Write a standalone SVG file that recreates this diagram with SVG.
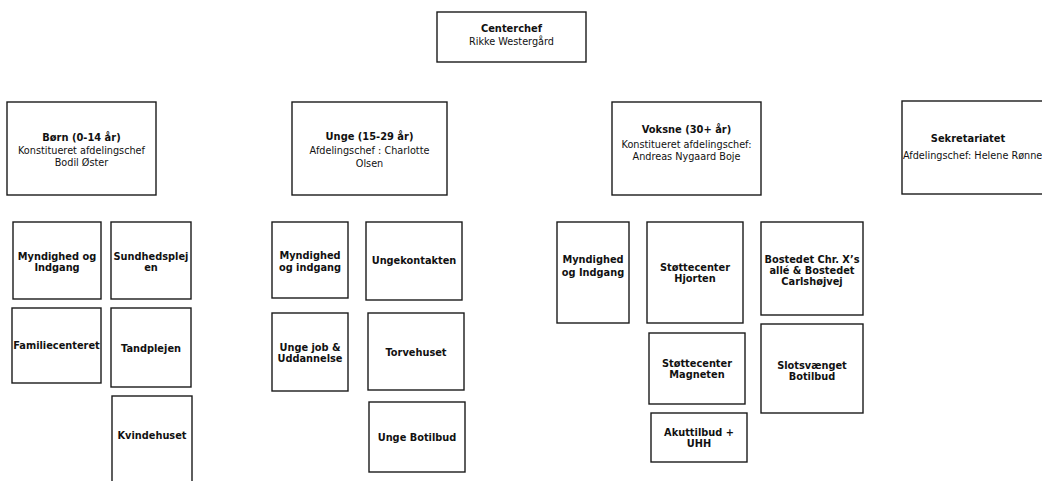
<svg xmlns="http://www.w3.org/2000/svg" width="1042" height="481" viewBox="0 0 1042 481">
<style>
.box{fill:#fff;stroke:#1a1a1a;stroke-width:1.4}
text{font-family:"DejaVu Sans",Verdana,sans-serif;fill:#111;text-anchor:middle}
.t{font-size:9.9px;font-weight:bold}
.r{font-size:9.7px}
.s{font-size:9.8px;font-weight:bold}
</style>
<rect width="1042" height="481" fill="#fff"/>
<g id="connectors"></g>

<g id="centerchef">
<rect class="box" x="437" y="12" width="149" height="50"/>
<text class="t" x="511.5" y="32">Centerchef</text>
<text class="r" x="511.5" y="45">Rikke Westergård</text>
</g>

<g id="born">
<rect class="box" x="7" y="102" width="149" height="93"/>
<text class="t" x="81.5" y="141">Børn (0-14 år)</text>
<text class="r" x="81.5" y="154">Konstitueret afdelingschef</text>
<text class="r" x="81.5" y="166">Bodil Øster</text>
</g>

<g id="unge">
<rect class="box" x="292" y="102" width="155" height="93"/>
<text class="t" x="369.5" y="140">Unge (15-29 år)</text>
<text class="r" x="369.5" y="154">Afdelingschef : Charlotte</text>
<text class="r" x="369.5" y="166.5">Olsen</text>
</g>

<g id="voksne">
<rect class="box" x="612" y="102" width="149" height="93"/>
<text class="t" x="686.5" y="133">Voksne (30+ år)</text>
<text class="r" x="686.5" y="147.5">Konstitueret afdelingschef:</text>
<text class="r" x="686.5" y="160">Andreas Nygaard Boje</text>
</g>

<g id="sekretariatet">
<rect class="box" x="902" y="101" width="155" height="93"/>
<text class="t" x="968" y="142">Sekretariatet</text>
<text class="r" x="903" y="158.5" style="text-anchor:start">Afdelingschef: Helene Rønne</text>
</g>

<g id="born-myndighed">
<rect class="box" x="13" y="222" width="88" height="77"/>
<text class="s" x="57" y="260">Myndighed og</text>
<text class="s" x="57" y="271">Indgang</text>
</g>
<g id="sundhedsplejen">
<rect class="box" x="111" y="222" width="80" height="77"/>
<text class="s" x="151" y="260">Sundhedsplej</text>
<text class="s" x="151" y="271">en</text>
</g>
<g id="familiecenteret">
<rect class="box" x="12" y="308" width="89" height="75"/>
<text class="s" x="56.5" y="348.5">Familiecenteret</text>
</g>
<g id="tandplejen">
<rect class="box" x="111" y="308" width="80" height="79"/>
<text class="s" x="151" y="351.5">Tandplejen</text>
</g>
<g id="kvindehuset">
<rect class="box" x="112" y="396" width="80" height="100"/>
<text class="s" x="152" y="438.5">Kvindehuset</text>
</g>

<g id="unge-myndighed">
<rect class="box" x="272" y="222" width="76" height="76"/>
<text class="s" x="310" y="259">Myndighed</text>
<text class="s" x="310" y="270.5">og indgang</text>
</g>
<g id="ungekontakten">
<rect class="box" x="366" y="222" width="96" height="78"/>
<text class="s" x="414" y="263.5">Ungekontakten</text>
</g>
<g id="unge-job">
<rect class="box" x="272" y="313" width="76" height="78"/>
<text class="s" x="310" y="350.5">Unge job &amp;</text>
<text class="s" x="310" y="361.5">Uddannelse</text>
</g>
<g id="torvehuset">
<rect class="box" x="368" y="313" width="96" height="77"/>
<text class="s" x="416" y="355.5">Torvehuset</text>
</g>
<g id="unge-botilbud">
<rect class="box" x="369" y="402" width="96" height="70"/>
<text class="s" x="417" y="440.5">Unge Botilbud</text>
</g>

<g id="voksne-myndighed">
<rect class="box" x="557" y="222" width="72" height="101"/>
<text class="s" x="593" y="262.5">Myndighed</text>
<text class="s" x="593" y="275.5">og Indgang</text>
</g>
<g id="hjorten">
<rect class="box" x="647" y="222" width="96" height="101"/>
<text class="s" x="695" y="270.5">Støttecenter</text>
<text class="s" x="695" y="282">Hjorten</text>
</g>
<g id="bostedet">
<rect class="box" x="761" y="222" width="102" height="93"/>
<text class="s" x="812" y="262.5">Bostedet Chr. X’s</text>
<text class="s" x="812" y="273.5">allé &amp; Bostedet</text>
<text class="s" x="812" y="284.5">Carlshøjvej</text>
</g>
<g id="slotsvaenget">
<rect class="box" x="761" y="324" width="102" height="89"/>
<text class="s" x="812" y="368.5">Slotsvænget</text>
<text class="s" x="812" y="379.5">Botilbud</text>
</g>
<g id="magneten">
<rect class="box" x="649" y="333" width="96" height="71"/>
<text class="s" x="697" y="366.5">Støttecenter</text>
<text class="s" x="697" y="377.5">Magneten</text>
</g>
<g id="akuttilbud">
<rect class="box" x="651" y="413" width="96" height="49"/>
<text class="s" x="699" y="435.5">Akuttilbud +</text>
<text class="s" x="699" y="446.5">UHH</text>
</g>
</svg>
